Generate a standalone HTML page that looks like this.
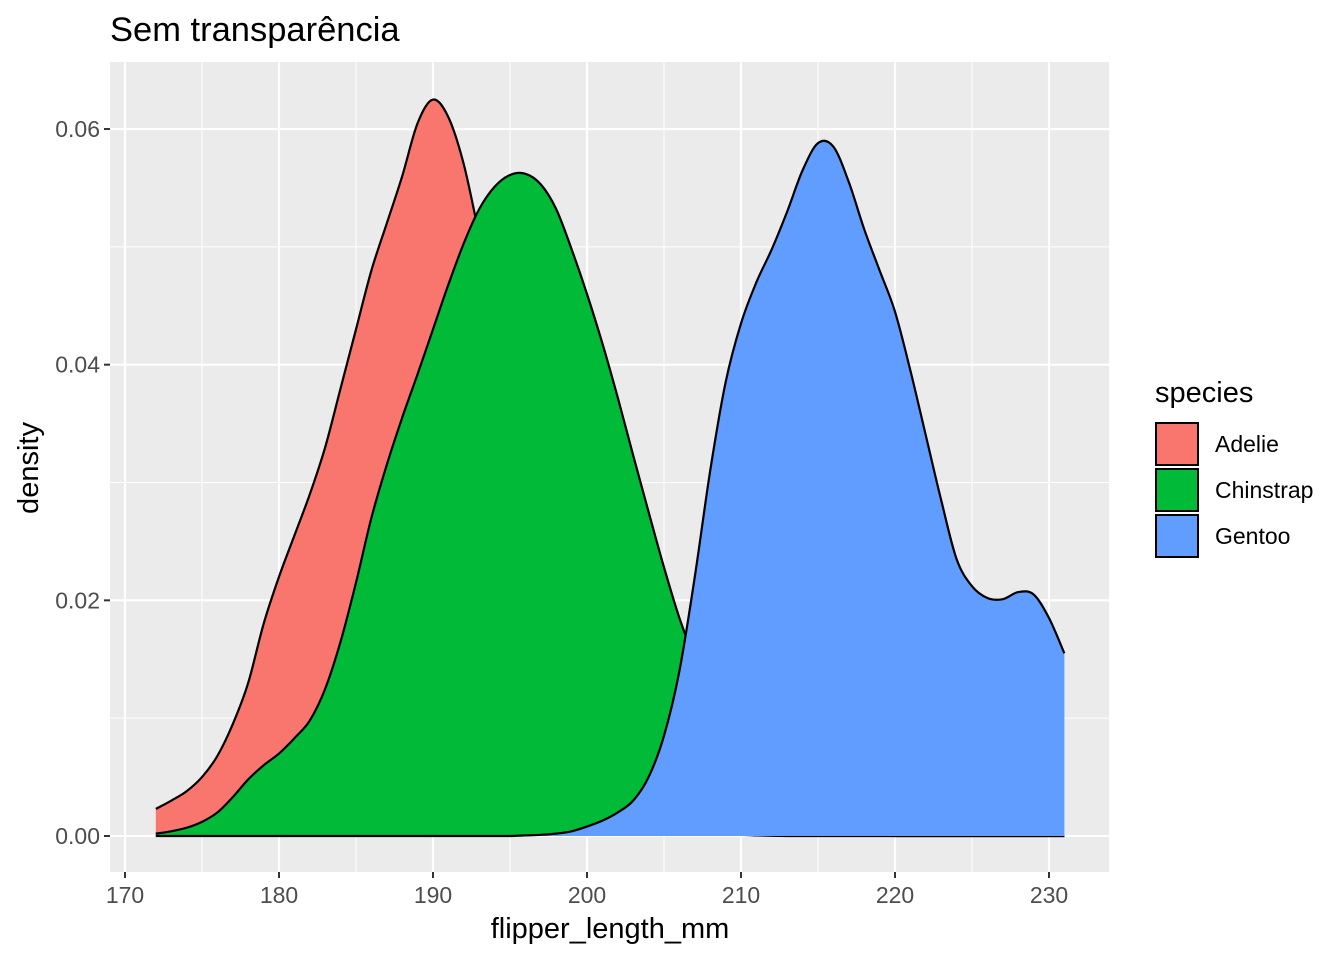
<!DOCTYPE html>
<html><head><meta charset="utf-8"><style>
body{margin:0;background:#fff;}
svg text{font-family:"Liberation Sans",Arial,sans-serif;}
</style></head><body>
<svg width="1344" height="960" xmlns="http://www.w3.org/2000/svg">
<text x="110" y="41" font-size="34.5" fill="#000">Sem transparência</text>
<rect x="110" y="62" width="999" height="810" fill="#EBEBEB"/>
<g id="grid"></g>
<g id="series"></g>
<g id="axes"></g>
<text x="610" y="938" font-size="29" text-anchor="middle">flipper_length_mm</text>
<text transform="translate(38,468) rotate(-90)" font-size="29" text-anchor="middle">density</text>
<g>
<text x="1155" y="402" font-size="29">species</text>
<g><rect x="1156" y="423" width="42" height="42" fill="#F8766D" stroke="#000" stroke-width="2"/><text x="1215" y="452" font-size="23">Adelie</text></g>
<g><rect x="1156" y="469" width="42" height="42" fill="#00BA38" stroke="#000" stroke-width="2"/><text x="1215" y="498" font-size="23">Chinstrap</text></g>
<g><rect x="1156" y="515" width="42" height="42" fill="#619CFF" stroke="#000" stroke-width="2"/><text x="1215" y="544" font-size="23">Gentoo</text></g>
</g>
</svg>
<script>
const xs = [172,173,174,175,176,177,178,179,180,181,182,183,184,185,186,187,188,189,190,191,192,193,194,195,196,197,198,199,200,201,202,203,204,205,206,207,208,209,210,211,212,213,214,215,216,217,218,219,220,221,222,223,224,225,226,227,228,229,230,231];
const adelie = [0.0023,0.003,0.0038,0.005,0.0068,0.0095,0.013,0.018,0.022,0.0255,0.029,0.033,0.038,0.043,0.048,0.052,0.056,0.0605,0.0625,0.061,0.057,0.051,0.045,0.039,0.033,0.027,0.022,0.017,0.013,0.010,0.007,0.005,0.0032,0.002,0.0012,0.0007,0.0004,0.0002,0.0001,0.00005,0.00002,0,0,0,0,0,0,0,0,0,0,0,0,0,0,0,0,0,0,0];
const chinstrap = [0.0002,0.0004,0.0007,0.0012,0.002,0.0033,0.0048,0.006,0.007,0.0083,0.0098,0.0125,0.0165,0.0215,0.027,0.0315,0.0355,0.0392,0.043,0.0468,0.0503,0.0532,0.0551,0.0561,0.0562,0.0553,0.0532,0.0498,0.046,0.0418,0.0372,0.0323,0.0275,0.0228,0.0185,0.015,0.0115,0.0082,0.0055,0.0035,0.002,0.0012,0.0007,0.0004,0.0002,0.0001,0.00005,0.00002,0,0,0,0,0,0,0,0,0,0,0,0];
const gentoo = [0,0,0,0,0,0,0,0,0,0,0,0,0,0,0,0,0,0,0,0,0,0,0,0,0.00005,0.0001,0.0002,0.0004,0.0008,0.0013,0.002,0.003,0.005,0.0085,0.014,0.022,0.031,0.0385,0.0435,0.047,0.0498,0.053,0.0565,0.0588,0.0585,0.0555,0.0515,0.048,0.0445,0.0395,0.034,0.0285,0.0235,0.0212,0.0202,0.0201,0.0207,0.0205,0.0185,0.0155];
const xTicks = [170,180,190,200,210,220,230];
const yTicks = [0,0.02,0.04,0.06];
const yTickLabels = ["0.00","0.02","0.04","0.06"];

const X = v => 125 + (v-170)*15.4;
const Y = v => 836 - v*11783;
const NS="http://www.w3.org/2000/svg";
function mk(tag, attrs, parent){const e=document.createElementNS(NS,tag);for(const k in attrs)e.setAttribute(k,attrs[k]);parent.appendChild(e);return e;}
const grid=document.getElementById('grid'), series=document.getElementById('series'), axes=document.getElementById('axes');
for(let i=0;i<xTicks.length-1;i++){const xv=X((xTicks[i]+xTicks[i+1])/2);
 const l=mk('line',{x1:xv,x2:xv,y1:62,y2:872,stroke:'#fff','stroke-width':1},grid);
 
 }
for(let i=0;i<yTicks.length-1;i++){const yv=Y((yTicks[i]+yTicks[i+1])/2);
 const l=mk('line',{x1:110,x2:1109,y1:yv,y2:yv,stroke:'#fff','stroke-width':1},grid);
 
 }
xTicks.forEach(t=>{const xv=X(t);
 const l=mk('line',{x1:xv,x2:xv,y1:62,y2:872,stroke:'#fff','stroke-width':2.1},grid);
 
 
 const tk=mk('line',{x1:xv,x2:xv,y1:872,y2:878,stroke:'#333','stroke-width':2},axes);
 
 
 const tx=mk('text',{x:xv,y:903,'font-size':23,'text-anchor':'middle',fill:'#4D4D4D'},axes);
 tx.textContent=t;
 
 });
yTicks.forEach((t,i)=>{const yv=Y(t);
 const l=mk('line',{x1:110,x2:1109,y1:yv,y2:yv,stroke:'#fff','stroke-width':2.1},grid);
 
 
 const tk=mk('line',{x1:104,x2:110,y1:yv,y2:yv,stroke:'#333','stroke-width':2},axes);
 
 
 const tx=mk('text',{x:100,y:yv+8,'font-size':23,'text-anchor':'end',fill:'#4D4D4D'},axes);
 tx.textContent=yTickLabels[i];
 
 });
function curve(vals){
 const p=xs.map((x,i)=>[X(x),Y(vals[i])]);
 let d=`M${p[0][0]},${p[0][1]}`;
 for(let i=0;i<p.length-1;i++){
  const p0=p[Math.max(0,i-1)],p1=p[i],p2=p[i+1],p3=p[Math.min(p.length-1,i+2)];
  let c1y=p1[1]+(p2[1]-p0[1])/6, c2y=p2[1]-(p3[1]-p1[1])/6;
  c1y=Math.min(c1y,836); c2y=Math.min(c2y,836);
  d+=` C${p1[0]+(p2[0]-p0[0])/6},${c1y} ${p2[0]-(p3[0]-p1[0])/6},${c2y} ${p2[0]},${p2[1]}`;
 }
 return d;
}
[['adelie',adelie,'#F8766D'],['chinstrap',chinstrap,'#00BA38'],['gentoo',gentoo,'#619CFF']].forEach(([n,v,c])=>{
 const d=curve(v);
 const f=mk('path',{d:d+` L${X(xs[xs.length-1])},${Y(0)} L${X(xs[0])},${Y(0)} Z`,fill:c,stroke:'none'},series);
 
 
 const o=mk('path',{d:d,fill:'none',stroke:'#000','stroke-width':2.2},series);
 
 
});
</script>
</body></html>
